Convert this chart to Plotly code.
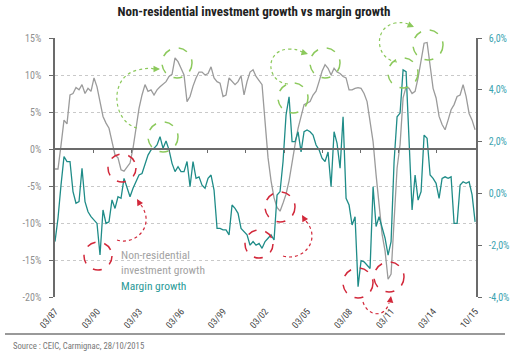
import plotly.graph_objects as go

# ---------------- data ----------------
tick_labels = ["03/87", "03/90", "03/93", "03/96", "03/99", "03/02", "03/05",
               "03/08", "03/11", "03/14", "10/15"]

investment_growth = [  # % (left axis)
    -2.7, -2.7, 0.5, 3.9, 3.4, 7.3, 7.5, 8.3, 8.0, 8.7,
    7.5, 8.2, 7.8, 9.6, 8.4, 6.6, 4.4, 3.5, 2.8, 1.0,
    -0.8, -1.2, -2.8, -3.0, -2.5, -1.9, 0.1, 2.8, 5.5, 7.3,
    8.7, 7.8, 8.0, 7.3, 8.0, 8.4, 8.7, 9.1, 9.8, 10.1,
    12.3, 11.8, 10.9, 10.0, 6.4, 7.1, 8.5, 9.6, 10.4, 10.4,
    10.0, 10.2, 11.1, 9.6, 9.1, 8.9, 7.1, 7.3, 9.6, 9.1,
    8.7, 9.1, 9.9, 7.3, 9.1, 10.4, 10.7, 9.8, 9.3, 8.7,
    3.7, -1.2, -4.3, -6.6, -7.9, -8.4, -7.3, -6.1, -4.3, -1.7,
    0.6, 2.8, 4.6, 6.0, 6.2, 6.4, 7.3, 7.8, 9.1, 10.5,
    11.4, 10.9, 10.0, 10.9, 10.4, 10.2, 9.8, 9.6, 8.0, 8.0,
    8.2, 8.3, 8.2, 7.5, 6.4, 3.7, 1.0, -3.5, -7.9, -11.5,
    -13.8, -17.6, -16.9, -9.7, -2.6, 0.6, 6.9, 8.4, 8.2, 7.5,
    7.8, 9.6, 12.0, 14.3, 14.4, 11.3, 8.2, 6.9, 4.4, 3.3,
    2.6, 3.9, 5.3, 6.0, 7.1, 7.3, 8.7, 7.1, 4.8, 3.9,
    2.6,
]

margin_growth = [  # % (right axis)
    -1.86, -0.96, 0.32, 1.42, 1.23, 1.23, 0.07, -0.38, -0.32, 0.97,
    -0.32, -0.71, -0.90, -1.03, -1.16, -2.38, -0.64, -1.16, -1.10, -0.25,
    -0.58, -0.13, -0.19, 0.58, 0.26, -0.13, 0.20, 0.45, 0.71, 0.77,
    1.10, 1.48, 1.68, 1.74, 1.87, 2.19, 1.74, 2.02, 1.68, 1.16,
    0.84, 1.03, 0.84, 0.84, 1.23, 0.26, 1.23, 0.58, 0.64, 0.32,
    0.20, 0.58, 0.71, 0.13, -1.35, -1.35, -1.41, -1.41, -1.60, -0.45,
    -0.58, -0.77, -1.35, -1.48, -1.60, -2.00, -1.86, -2.00, -1.93, -2.12,
    -1.86, -1.73, -1.60, -1.80, -0.06, 0.07, 1.23, 3.03, 3.73, 2.00,
    2.00, 2.38, 1.60, 2.38, 2.45, 2.38, 2.25, 1.87, 1.68, 1.36,
    1.23, 1.60, 0.26, 2.38, 1.93, 0.97, 2.96, -0.19, -0.45, -1.22,
    -0.90, -3.60, -2.60, -2.64, -2.77, -2.90, 0.26, -1.28, -0.90, -1.35,
    -1.73, -2.38, -1.86, 1.23, 2.96, 3.10, 4.77, 4.70, 2.25, -0.64,
    0.71, -0.26, 0.07, 2.25, 2.13, 0.71, 0.58, 0.39, -0.19, 0.58,
    0.64, 0.58, 0.64, -1.16, -1.16, 0.32, 0.45, 0.39, 0.45, -0.06,
    -1.10,
]

left_ticks = [15, 10, 5, 0, -5, -10, -15, -20]
left_tick_text = ["15%", "10%", "5%", "0%", "-5%", "-10%", "-15%", "-20%"]
right_ticks = [6, 4, 2, 0, -2, -4]
right_tick_text = ["6,0%", "4,0%", "2,0%", "0,0%", "-2,0%", "-4,0%"]

# ---------------- styling ----------------
FONT = "Roboto Condensed, Liberation Sans Narrow, Roboto, sans-serif"
GRAY = "#9b9b9b"
TEAL = "#1f8c88"
TEAL_TXT = "#3aa3b0"
GREEN = "#8cc95c"
RED = "#d2283a"
AX = "#6b6b6b"

W, H = 522, 358
L, R, T, B = 55, 476, 38, 297   # plot area in pixels

n = len(investment_growth)
xs = list(range(n))
xmax = n - 1


def px(x):
    return (x - L) / (R - L)


def py(y):
    return (B - y) / (B - T)


def P(x, y):
    return f"{px(x):.4f},{py(y):.4f}"


fig = go.Figure()
fig.add_trace(go.Scatter(x=xs, y=investment_growth, mode="lines",
                         line=dict(color=GRAY, width=1.3), yaxis="y",
                         name="Non-residential investment growth"))
fig.add_trace(go.Scatter(x=xs, y=margin_growth, mode="lines",
                         line=dict(color=TEAL, width=1.3), yaxis="y2",
                         name="Margin growth"))
# dummy trace to host the zero-line axis
fig.add_trace(go.Scatter(x=[None], y=[None], xaxis="x2", yaxis="y",
                         showlegend=False, hoverinfo="skip"))

label_pos = [xmax * k / (len(tick_labels) - 1) for k in range(len(tick_labels))]
zero_ticks = [xmax * k / 11 for k in range(1, 11)]

fig.update_layout(
    width=W, height=H,
    margin=dict(l=L, r=W - R, t=T, b=H - B, pad=0),
    paper_bgcolor="white", plot_bgcolor="white",
    showlegend=False,
    font=dict(family=FONT),
    title=dict(text="<b>Non-residential investment growth vs margin growth</b>",
               x=254 / W, xref="container", xanchor="center",
               y=1 - 11 / H, yref="container", yanchor="middle",
               font=dict(size=13, color="#222222", family=FONT)),
    xaxis=dict(range=[0, xmax + 0.3], tickvals=label_pos, ticktext=tick_labels,
               tickangle=-50, showgrid=False, zeroline=False, showline=False,
               ticks="", tickfont=dict(size=9.5, color="#444444"),
               ticklabelstandoff=6, automargin=False),
    xaxis2=dict(overlaying="x", anchor="free", position=20 / 35,
                range=[0, xmax + 0.3], tickvals=zero_ticks,
                showticklabels=False, ticks="outside", ticklen=3,
                tickcolor=AX, showline=True, linecolor=AX, linewidth=1.5,
                showgrid=False, zeroline=False, automargin=False),
    yaxis=dict(range=[-20, 15], tickvals=left_ticks, ticktext=left_tick_text,
               showgrid=True, gridcolor="#c9c9c9", griddash="dot", gridwidth=1,
               zeroline=False, showline=True, linecolor=AX, linewidth=1.5,
               ticks="outside", ticklen=4, tickcolor=AX,
               tickfont=dict(size=10, color="#8f8f8f"), ticklabelstandoff=6,
               automargin=False),
    yaxis2=dict(range=[-4, 6], tickvals=right_ticks, ticktext=right_tick_text,
                overlaying="y", side="right", showgrid=False, zeroline=False,
                showline=True, linecolor=AX, linewidth=1.5,
                ticks="outside", ticklen=4, tickcolor=AX,
                tickfont=dict(size=10, color=TEAL_TXT), ticklabelstandoff=5,
                automargin=False),
)

shapes = []
# highlight circles
green_circles = [(177, 63, 15), (163, 137, 15), (293, 98, 15),
                 (325, 63, 15), (403, 73, 15), (428, 45, 15)]
red_circles = [(98, 256, 14), (122, 168, 14), (259, 244, 14),
               (280, 207, 15), (358, 283, 15), (389, 277, 15)]
for (cx, cy, r), col in [(c, GREEN) for c in green_circles] + [(c, RED) for c in red_circles]:
    shapes.append(dict(type="circle", xref="paper", yref="paper",
                       x0=px(cx - r), x1=px(cx + r), y0=py(cy + r), y1=py(cy - r),
                       line=dict(color=col, width=1.5, dash="dash")))

# curved dotted arrows
arcs = [
    (GREEN, f"M {P(137,128)} C {P(112,122)} {P(108,76)} {P(138,70)} C {P(146,68)} {P(150,68)} {P(154,69)}"),
    (GREEN, f"M {P(288,84)} C {P(266,82)} {P(264,50)} {P(289,49)} C {P(295,49)} {P(299,50)} {P(302,52)}"),
    (GREEN, f"M {P(397,62)} C {P(376,60)} {P(372,28)} {P(395,23)} C {P(401,22)} {P(405,23)} {P(408,24)}"),
    (RED, f"M {P(117,240)} C {P(135,246)} {P(156,226)} {P(141,205)}"),
    (RED, f"M {P(283,256)} C {P(303,262)} {P(322,240)} {P(306,221)}"),
    (RED, f"M {P(363,302)} C {P(368,317)} {P(385,318)} {P(389,303)}"),
]
for col, path in arcs:
    shapes.append(dict(type="path", path=path, xref="paper", yref="paper",
                       line=dict(color=col, width=1.2, dash="dot")))

# separator line above the source
shapes.append(dict(type="line", xref="paper", yref="paper",
                   x0=px(5), x1=px(505), y0=py(334), y1=py(334),
                   line=dict(color="#777777", width=1.5)))
fig.update_layout(shapes=shapes)

annotations = []
heads = [(GREEN, 160, 69, -7, 0), (GREEN, 308, 54, -7, -2), (GREEN, 414, 27, -7, -3),
         (RED, 137, 199, 4, 7), (RED, 302, 215, 4, 7), (RED, 391, 296, -1, 7)]
for col, hx, hy, ax, ay in heads:
    annotations.append(dict(xref="paper", yref="paper", x=px(hx), y=py(hy),
                            ax=ax, ay=ay, text="", showarrow=True,
                            arrowhead=2, arrowsize=1, arrowwidth=1.3,
                            arrowcolor=col))

annotations.append(dict(xref="paper", yref="paper", x=px(119), y=py(246),
                        xanchor="left", yanchor="top", align="left",
                        text="Non-residential<br>investment growth",
                        showarrow=False,
                        font=dict(size=11.5, color="#a3a3a3", family=FONT)))
annotations.append(dict(xref="paper", yref="paper", x=px(119), y=py(286),
                        xanchor="left", yanchor="middle", align="left",
                        text="Margin growth", showarrow=False,
                        font=dict(size=11.5, color="#2a9a98", family=FONT)))
annotations.append(dict(xref="paper", yref="paper", x=px(11), y=py(346),
                        xanchor="left", yanchor="middle", align="left",
                        text="Source : CEIC, Carmignac, 28/10/2015",
                        showarrow=False,
                        font=dict(size=8.7, color="#777777", family=FONT)))
fig.update_layout(annotations=annotations)

fig.write_html("out.html",
               config={"displayModeBar": False},
               post_script="document.body.style.margin='0';"
                           "document.body.style.overflow='hidden';")
